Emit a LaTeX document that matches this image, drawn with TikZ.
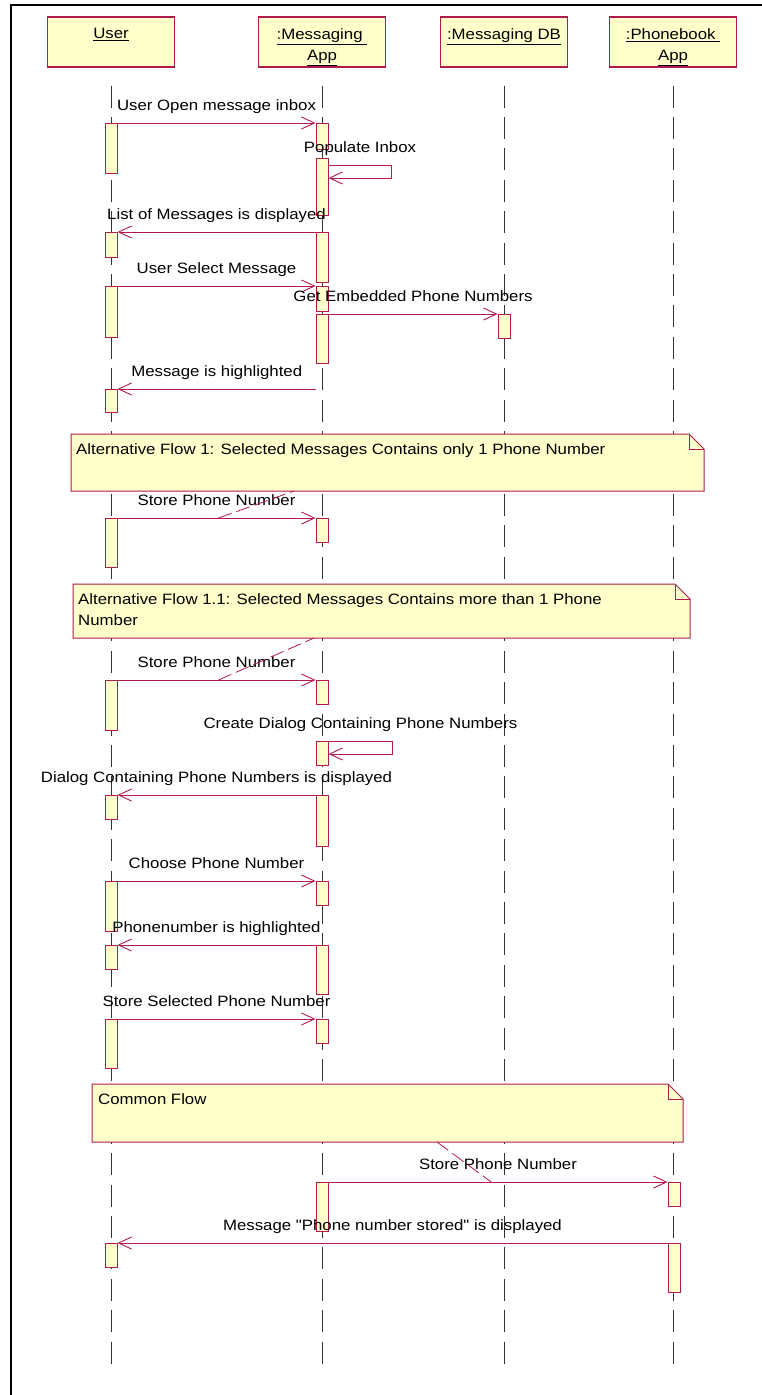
\documentclass[tikz,border=0pt]{standalone}
\usepackage{fontspec}
\newfontfamily\uifont{Liberation Sans}[FakeStretch=1.12]
\usepackage{tikz}
\usetikzlibrary{arrows.meta, calc}
\definecolor{rosered}{RGB}{176,26,76}
\definecolor{notefill}{RGB}{255,255,204}
\definecolor{lifegray}{RGB}{50,50,50}
% note with folded corner: name, left, top, right, bottom
\newcommand{\umlnote}[5]{%
  \filldraw[draw=rosered, fill=notefill, line width=1pt]
    (#2,#3) -- (#4-15,#3) -- (#4,#3+15) -- (#4,#5) -- (#2,#5) -- cycle;
  \draw[rosered, line width=1pt] (#4-15,#3) -- (#4-15,#3+15) -- (#4,#3+15);
  \coordinate (#1) at (#2,#3);}

\begin{document}
\begin{tikzpicture}[x=1pt, y=-1pt, font=\uifont\fontsize{15}{22}\selectfont,
  >={Straight Barb[length=13pt,width=12pt]},
  head/.style={draw=rosered, fill=notefill, line width=1.3pt, minimum width=127pt,
               minimum height=50pt},
  headtxt/.style={anchor=north, inner sep=0pt, yshift=-12pt, align=center,
                  font=\uifont\fontsize{15}{21.5}\selectfont},
  act/.style={draw=rosered, fill=notefill, line width=1pt, minimum width=12pt,
              inner sep=0pt, anchor=north},
  msg/.style={->, rosered, line width=0.9pt},
  lbl/.style={midway, anchor=base, yshift=12.5pt, inner sep=0pt, text=black},
  lifeline/.style={lifegray, line width=1pt, dash pattern=on 22pt off 9.4pt},
  anchorline/.style={rosered, line width=0.8pt, dash pattern=on 14pt off 5pt},
  notetext/.style={anchor=north west, inner sep=0pt, align=left,
                   font=\uifont\fontsize{15}{21}\selectfont}]
  % Fond et cadre
  \useasboundingbox (0,0) rectangle (762,1395);
  \fill[white] (0,0) rectangle (762,1395);
  \draw[black, line width=2pt] (762,5) -- (11,5) -- (11,1395);
  % Objets
  \node[head] (user)   at (111,42) {};
  \node[head] (msgapp) at (322,42) {};
  \node[head] (msgdb)  at (504,42) {};
  \node[head] (phbook) at (673,42) {};
  \node[headtxt] (userlbl)   at (user.north)   {\underline{User}};
  \node[headtxt] (msgapplbl) at (msgapp.north) {\underline{:Messaging\ }\\\underline{App}};
  \node[headtxt] (msgdblbl)  at (msgdb.north)  {\underline{:Messaging DB}};
  \node[headtxt] (phbooklbl) at (phbook.north) {\underline{:Phonebook\ }\\\underline{App}};
  % Lignes de vie
  \coordinate (lifeend) at (0,1373);
  \foreach \obj in {user, msgapp, msgdb, phbook}
    \draw[lifeline] ([yshift=-18pt]\obj.south) -- (\obj.south |- lifeend);
  % Notes
  \umlnote{note1}{71}{434}{704}{491}
  \node[notetext] (alt1) at ([shift={(5,9)}]note1)
      {Alternative Flow 1: Selected Messages Contains only 1 Phone Number};
  \umlnote{note2}{73}{584}{690}{638}
  \node[notetext] (alt11) at ([shift={(5,9)}]note2)
      {Alternative Flow 1.1: Selected Messages Contains more than 1 Phone\\Number};
  \umlnote{note3}{92}{1084}{683}{1142}
  \node[notetext] (common) at ([shift={(6,9)}]note3) {Common Flow};
  % Activations User
  \node[act, minimum height=50pt] (ua1)  at (111,123)  {};
  \node[act, minimum height=25pt] (ua2)  at (111,232)  {};
  \node[act, minimum height=51pt] (ua3)  at (111,286)  {};
  \node[act, minimum height=23pt] (ua4)  at (111,389)  {};
  \node[act, minimum height=49pt] (ua5)  at (111,518)  {};
  \node[act, minimum height=50pt] (ua6)  at (111,680)  {};
  \node[act, minimum height=24pt] (ua7)  at (111,795)  {};
  \node[act, minimum height=50pt] (ua8)  at (111,881)  {};
  \node[act, minimum height=24pt] (ua9)  at (111,945)  {};
  \node[act, minimum height=49pt] (ua10) at (111,1019) {};
  \node[act, minimum height=24pt] (ua11) at (111,1243) {};
  % Activations Messaging App
  \node[act, minimum height=26pt] (ma1)  at (322,123)  {};
  \node[act, minimum height=57pt] (ma2)  at (322,158)  {};
  \node[act, minimum height=50pt] (ma3)  at (322,232)  {};
  \node[act, minimum height=25pt] (ma4)  at (322,286)  {};
  \node[act, minimum height=49pt] (ma5)  at (322,314)  {};
  \node[act, minimum height=24pt] (ma6)  at (322,518)  {};
  \node[act, minimum height=24pt] (ma7)  at (322,680)  {};
  \node[act, minimum height=24pt] (ma8)  at (322,741)  {};
  \node[act, minimum height=51pt] (ma9)  at (322,795)  {};
  \node[act, minimum height=24pt] (ma10) at (322,881)  {};
  \node[act, minimum height=49pt] (ma11) at (322,945)  {};
  \node[act, minimum height=24pt] (ma12) at (322,1019) {};
  \node[act, minimum height=49pt] (ma13) at (322,1182) {};
  % Activations Messaging DB et Phonebook App
  \node[act, minimum height=24pt] (da1) at (504,314)  {};
  \node[act, minimum height=24pt] (pa1) at (674,1182) {};
  \node[act, minimum height=49pt] (pa2) at (674,1243) {};
  % Messages
  \draw[msg] (ua1.north east) -- (ma1.north west) node[lbl]{User Open message inbox};
  \draw[msg] ([yshift=-7pt]ma2.north east) -- ++(63,0) node[lbl]{Populate Inbox}
      -- ++(0,13) -- ++(-63,0);
  \draw[msg] (ma3.north west) -- (ua2.north east) node[lbl]{List of Messages is displayed};
  \draw[msg] (ua3.north east) -- (ma4.north west) node[lbl]{User Select Message};
  \draw[msg] (ma5.north east) -- (da1.north west) node[lbl]{Get Embedded Phone Numbers};
  \coordinate (mhl) at (316,389);
  \draw[msg] (mhl) -- (ua4.north east) node[lbl]{Message is highlighted};
  \draw[msg] (ua5.north east) -- (ma6.north west) node[lbl]{Store Phone Number}
      coordinate[pos=0.51] (s1);
  \draw[msg] (ua6.north east) -- (ma7.north west) node[lbl]{Store Phone Number}
      coordinate[pos=0.51] (s2);
  \draw[msg] (ma8.north east) -- ++(64,0) node[lbl]{Create Dialog Containing Phone Numbers}
      -- ++(0,13) -- ++(-64,0);
  \draw[msg] (ma9.north west) -- (ua7.north east)
      node[lbl]{Dialog Containing Phone Numbers is displayed};
  \draw[msg] (ua8.north east) -- (ma10.north west) node[lbl]{Choose Phone Number};
  \draw[msg] (ma11.north west) -- (ua9.north east) node[lbl]{Phonenumber is highlighted};
  \draw[msg] (ua10.north east) -- (ma12.north west) node[lbl]{Store Selected Phone Number};
  \draw[msg] (ma13.north east) -- (pa1.north west) node[lbl]{Store Phone Number}
      coordinate[pos=0.48] (s3);
  \draw[msg] (pa2.north west) -- (ua11.north east)
      node[lbl]{Message "Phone number stored" is displayed};
  % Ancrages des notes
  \coordinate (n1foot) at (294,491);
  \coordinate (n2foot) at (314,638);
  \coordinate (n3foot) at (437,1142);
  \draw[anchorline] (s1) -- (n1foot);
  \draw[anchorline] (s2) -- (n2foot);
  \draw[anchorline] (n3foot) -- (s3);
\end{tikzpicture}
\end{document}
